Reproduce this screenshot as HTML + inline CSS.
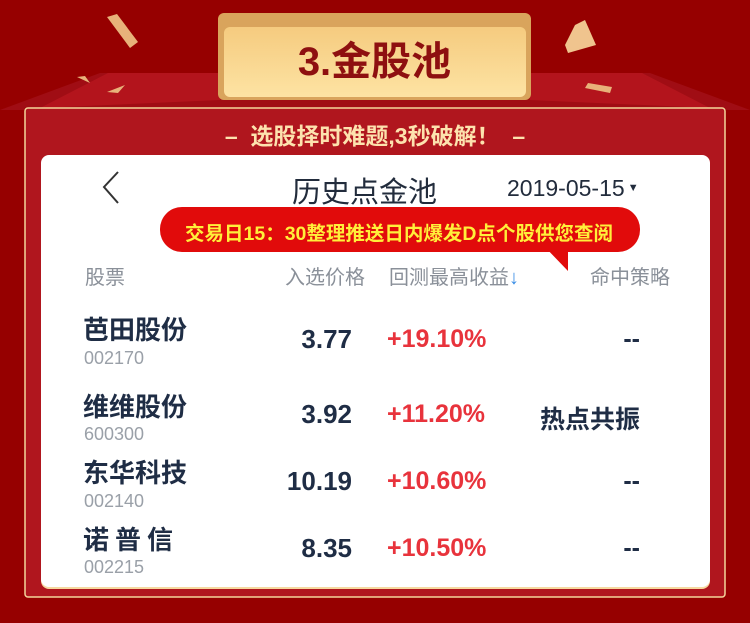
<!DOCTYPE html>
<html><head><meta charset="utf-8"><style>
body{margin:0;width:750px;height:623px;overflow:hidden;background:#960000;position:relative;font-family:"Liberation Sans","Noto Sans CJK SC",sans-serif}
.abs{position:absolute}
.name{position:absolute;left:83px;font-size:26px;font-weight:bold;color:#1f2d45}
.code{position:absolute;left:84px;font-size:18px;color:#9aa0a8}
.price{position:absolute;right:398px;font-size:26px;font-weight:bold;color:#1f2d45;text-align:right}
.pct{position:absolute;left:387px;font-size:25px;font-weight:bold;color:#e8333c}
.strat{position:absolute;right:110px;font-size:25px;font-weight:bold;color:#1f2d45;text-align:right}
.hdr{position:absolute;top:261px;font-size:20px;color:#8a9099}
</style></head><body>
<svg class="abs" style="left:0;top:0" width="750" height="623">
<polygon points="0,110 100,73 650,73 750,110" fill="#a00d14"/>
<polygon points="108,73 220,73 220,100 40,108" fill="#b3141c"/>
<polygon points="530,73 642,73 710,108 530,100" fill="#b3141c"/>
<rect x="25" y="108" width="700" height="489" rx="3" fill="#b0161e" stroke="#f4d59a" stroke-width="1.5"/>
<polygon points="107,17 117,14 138,42 130,48" fill="#e8b27a"/>
<polygon points="575,25 585,20 596,45 568,53 565,45" fill="#f0c48e"/>
<polygon points="107,92 125,85 118,93" fill="#e8b27a"/>
<polygon points="77,77 85,76 90,83" fill="#e8b27a"/>
<polygon points="588,83 612,87 610,93 585,88" fill="#e8b27a"/>
<defs><linearGradient id="g" x1="0" y1="0" x2="0" y2="1"><stop offset="0" stop-color="#f5cb7f"/><stop offset="1" stop-color="#fde3a3"/></linearGradient></defs>
<rect x="218" y="13" width="313" height="87" rx="6" fill="#d9a45c"/>
<rect x="224" y="27" width="302" height="70" rx="6" fill="url(#g)"/>
</svg>
<div class="abs" style="left:218px;top:37px;width:313px;text-align:center;font-size:40px;font-weight:bold;color:#8e1010;line-height:50px">3.金股池</div>
<div class="abs" style="left:25px;top:117px;width:700px;text-align:center;font-size:23px;font-weight:bold;color:#fde2ae">–&nbsp; 选股择时难题,3秒破解！ &nbsp;–</div>
<div class="abs" style="left:41px;top:155px;width:669px;height:432px;background:#fff;border-radius:8px;box-shadow:0 2px 0 #f6d9a0"></div>
<svg class="abs" style="left:95px;top:165px" width="30" height="45">
<polyline points="23,7 9,22 23,38" fill="none" stroke="#333" stroke-width="2"/>
</svg>
<div class="abs" style="left:292px;top:169px;font-size:29px;color:#222c3c">历史点金池</div>
<div class="abs" style="left:507px;top:175px;font-size:23px;color:#222c3c">2019-05-15<span style="font-size:11px;vertical-align:5px"> ▼</span></div>
<svg class="abs" style="left:158px;top:205px" width="485" height="70">
<rect x="2" y="2" width="480" height="45" rx="22" fill="#e10b0b"/>
<polygon points="385,40 410,40 410,66" fill="#e10b0b"/>
</svg>
<div class="abs" style="left:160px;top:217px;width:478px;text-align:center;font-size:19.5px;font-weight:bold;color:#ffef3a">交易日15：30整理推送日内爆发D点个股供您查阅</div>
<div class="hdr" style="left:85px">股票</div>
<div class="hdr" style="left:285px">入选价格</div>
<div class="hdr" style="left:389px">回测最高收益<span style="color:#3a8ee6;font-weight:bold">↓</span></div>
<div class="hdr" style="left:590px">命中策略</div>

<div class="name" style="top:310px">芭田股份</div>
<div class="code" style="top:348px">002170</div>
<div class="price" style="top:324px">3.77</div>
<div class="pct" style="top:325px">+19.10%</div>
<div class="strat" style="top:325px">--</div>

<div class="name" style="top:387px">维维股份</div>
<div class="code" style="top:424px">600300</div>
<div class="price" style="top:399px">3.92</div>
<div class="pct" style="top:400px">+11.20%</div>
<div class="strat" style="top:400px">热点共振</div>

<div class="name" style="top:453px">东华科技</div>
<div class="code" style="top:491px">002140</div>
<div class="price" style="top:466px">10.19</div>
<div class="pct" style="top:467px">+10.60%</div>
<div class="strat" style="top:467px">--</div>

<div class="name" style="top:520px;letter-spacing:6px">诺普信</div>
<div class="code" style="top:557px">002215</div>
<div class="price" style="top:533px">8.35</div>
<div class="pct" style="top:534px">+10.50%</div>
<div class="strat" style="top:534px">--</div>
</body></html>
